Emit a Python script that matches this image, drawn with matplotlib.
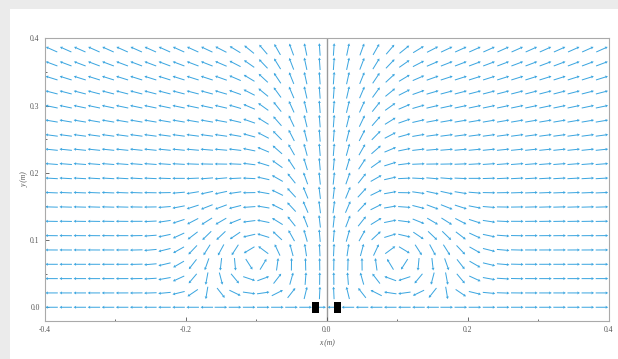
import numpy as np
import matplotlib.pyplot as plt
from matplotlib.patches import Rectangle

plt.rcParams['font.family'] = ['Liberation Serif', 'DejaVu Serif']

# sample grid of the vector plot
x_vals = np.arange(-0.39, 0.40, 0.02)
y_vals = np.arange(19) * 0.0213

# direction field:
# outward flow along the floor, rising jet over the gap that spreads with height,
# upward tilt of the outer flow near the top, two recirculation cells
side_width = 0.05        # how fast the outward flow builds up away from x = 0
top_rise = 0.47          # upward part of the outer flow at the top row
top_y = 0.384
jet_strength = 2.6
jet_width0 = 0.04
jet_spread = 0.1
floor_layer = 0.03
cell_x = 0.1
cell_y = 0.085
cell_radius = 0.07
cell_strength = 4.5

# the two black blocks at the bottom
block_x = [-0.0155, 0.0155]
block_w = 0.0095
block_h = 0.016

xticks = [-0.4, -0.2, 0.0, 0.2, 0.4]
yticks = [0.0, 0.1, 0.2, 0.3, 0.4]

X, Y = np.meshgrid(x_vals, y_vals)
U = np.tanh(X / side_width)
jet_w = jet_width0 + jet_spread * Y
V = top_rise * (Y / top_y) ** 3
V = V + jet_strength * np.exp(-(X / jet_w) ** 2) * (1 - np.exp(-(Y / floor_layer) ** 2))

# recirculation cells (left and right mirrored) with their images under the floor
for cx, sgn in ((-cell_x, 1), (cell_x, -1)):
    for cy, s2 in ((cell_y, 1), (-cell_y, -1)):
        dx, dy = X - cx, Y - cy
        r = np.hypot(dx, dy)
        vt = cell_strength * (r / cell_radius) * np.exp(-(r / cell_radius) ** 2)
        U += sgn * s2 * (-dy / r) * vt
        V += sgn * s2 * (dx / r) * vt

mag = np.hypot(U, V)
U = U / mag
V = V / mag

fig = plt.figure(figsize=(6.18, 3.59), dpi=100, facecolor='#ebebeb')
fig.patches.append(Rectangle((10 / 618, 0), 1, 1 - 9 / 359, transform=fig.transFigure,
                             facecolor='white', edgecolor='none', zorder=-5))
ax = fig.add_axes([44.5 / 618, 1 - 320.7 / 359, (609 - 44.5) / 618, (320.7 - 38.3) / 359])
ax.set_facecolor('white')
ax.set_zorder(2)

ax.axvline(0, color='#9a9a9a', lw=1.0, zorder=1)
ax.quiver(X, Y, U, V, color='#3ca6e0', angles='xy', scale_units='dots', scale=1 / 12.5,
          units='dots', width=1.0, headwidth=3.0, headlength=2.6, headaxislength=2.4,
          pivot='middle', zorder=2)
for bx in block_x:
    ax.add_patch(Rectangle((bx - block_w / 2, -block_h / 2), block_w, block_h,
                           facecolor='black', edgecolor='none', zorder=3))

ax.set_xlim(-0.4, 0.4)
ax.set_ylim(-0.02, 0.4)
ax.set_xticks(xticks)
ax.set_xticklabels(['%.1f' % t for t in xticks])
ax.set_yticks(yticks)
ax.set_yticklabels(['%.1f' % t for t in yticks])
ax.set_xticks(np.arange(-0.4, 0.41, 0.1), minor=True)
ax.set_yticks(np.arange(0, 0.41, 0.05), minor=True)
ax.tick_params(which='both', direction='in', labelsize=5.5, colors='#555555', length=3, width=0.6)
ax.tick_params(which='minor', length=1.5)
for s in ax.spines.values():
    s.set_color('#aaaaaa')
    s.set_linewidth(0.8)
ax.set_xlabel('x (m)', fontsize=5.5, color='#555555', labelpad=4, fontstyle='italic')
ax.set_ylabel('y (m)', fontsize=5.5, color='#555555', labelpad=1, fontstyle='italic')

fig.savefig('out.png', dpi=100, facecolor=fig.get_facecolor())
